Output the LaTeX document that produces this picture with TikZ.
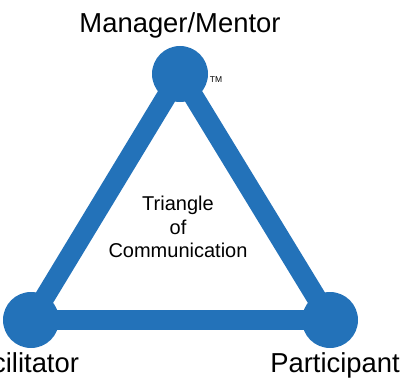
\documentclass[tikz,border=0pt]{standalone}
\usepackage{fontspec}
\setmainfont{Liberation Sans}
\usetikzlibrary{positioning}
\definecolor{triblue}{RGB}{35,114,185}
\tikzstyle{side}  =[line width=20pt, draw=triblue]
\tikzstyle{corner}=[circle, fill=triblue, minimum size=56pt,
                    inner sep=0pt, outer sep=0pt]
\tikzstyle{role}  =[inner sep=0pt, anchor=base,
                    font=\fontsize{27.4}{32}\selectfont]
\tikzstyle{middle}=[inner sep=0pt, align=center,
                    font=\fontsize{20}{23.7}\selectfont]

\begin{document}
\begin{tikzpicture}[x=1pt, y=1pt]
    \useasboundingbox (0,0) rectangle (401,381);

    % the three corners
    \node (mgr) [corner] at (180,307) {};
    \node (fac) [corner] at (31,61) {};
    \node (par) [corner] at (330,61) {};

    % sides
    \draw [side] (mgr.center) to (fac.center);
    \draw [side] (mgr.center) to (par.center);
    \draw [side] (fac.center) to (par.center);

    % labels
    \node (mgrlab) [role] at (180,348.4) {Manager/Mentor};
    \node (faclab) [role] at (19.6,8.4) {Facilitator};
    \node (parlab) [role] at (335,8.4) {Participant};
    \node (tm) [inner sep=0pt, font=\fontsize{8.5}{10}\selectfont]
        at (216,301) {TM};
    \node (title) [middle] at (178,154) {Triangle\\of\\Communication};
\end{tikzpicture}
\end{document}
